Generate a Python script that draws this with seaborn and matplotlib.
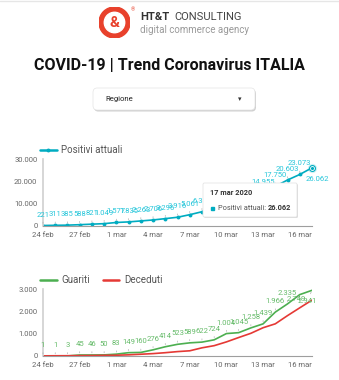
import matplotlib
matplotlib.use('Agg')
import matplotlib.pyplot as plt
import seaborn as sns
import pandas as pd
from matplotlib.patches import FancyBboxPatch, Circle, Rectangle
from matplotlib.lines import Line2D

# ---------------- data ----------------
dates = pd.date_range('2020-02-24', '2020-03-17', freq='D')
positivi = [221, 311, 385, 588, 821, 1049, 1577, 1835, 2263, 2706, 3296, 3916,
            5061, 6387, 7985, 8514, 10590, 12839, 14955, 17750, 20603, 23073, 26062]
guariti = [1, 1, 3, 45, 46, 50, 83, 149, 160, 276, 414, 523, 589, 622, 724,
           1004, 1045, 1258, 1439, 1966, 2335, 2749, 2941]
deceduti = [7, 10, 12, 17, 21, 29, 34, 52, 79, 107, 148, 197, 233, 366, 463,
            631, 827, 1016, 1266, 1441, 1809, 2158, 2503]
x_tick_labels = ['24 feb', '27 feb', '1 mar', '4 mar', '7 mar', '10 mar', '13 mar', '16 mar']
top_yticks = [0, 10000, 20000, 30000]
bottom_yticks = [0, 1000, 2000, 3000]
title = 'COVID-19 | Trend Coronavirus ITALIA'
tooltip_date = '17 mar 2020'

TEAL = '#00acc1'
TEAL_LBL = '#26c6da'
GREEN = '#4caf50'
GREEN_LBL = '#66bb6a'
RED = '#e53935'
TICK_COL = '#666666'


def it(v):
    return f"{int(v):,}".replace(',', '.')


sns.set_style('white')
plt.rcParams['font.family'] = ['Roboto', 'DejaVu Sans']

W, H = 339, 380
fig = plt.figure(figsize=(W / 100, H / 100), dpi=100)
fig.patch.set_facecolor('white')


def fx(px):
    return px / W


def fy(py):
    return 1 - py / H


# top border line
fig.add_artist(Line2D([0, 1], [fy(1), fy(1)], color='#e6e6e6', lw=1))

# ---------------- header ----------------
logo_ax = fig.add_axes([fx(99), fy(38), fx(31), 31 / H])
logo_ax.set_xlim(0, 1)
logo_ax.set_ylim(0, 1)
logo_ax.axis('off')
logo_ax.add_patch(Circle((0.5, 0.5), 0.5, color='#e8412c'))
logo_ax.add_patch(Circle((0.5, 0.5), 0.33, color='white'))
logo_ax.text(0.5, 0.47, '&', color='#e8412c', fontsize=11, fontweight='bold',
             ha='center', va='center')
fig.text(fx(133), fy(10), '®', color='#e8412c', fontsize=4, ha='center', va='center')
fig.text(fx(140), fy(17), 'HT&T', color='#333333', fontsize=8, fontweight='bold',
         ha='left', va='center')
fig.text(fx(174), fy(17), 'CONSULTING', color='#444444', fontsize=8,
         ha='left', va='center')
fig.text(fx(140), fy(30), 'digital commerce agency', color='#9a9a9a', fontsize=7,
         ha='left', va='center')

fig.text(0.5, fy(65), title, fontsize=11.5, fontweight='bold', color='#111111',
         ha='center', va='center')

# dropdown
shadow = FancyBboxPatch((fx(94), fy(111.5)), fx(162), 22 / H,
                        boxstyle='round,pad=0,rounding_size=0.012',
                        transform=fig.transFigure, facecolor='#d0d0d0',
                        edgecolor='none', zorder=1)
fig.add_artist(shadow)
box = FancyBboxPatch((fx(93), fy(110)), fx(162), 22 / H,
                     boxstyle='round,pad=0,rounding_size=0.012',
                     transform=fig.transFigure, facecolor='white',
                     edgecolor='#e4e4e4', lw=0.5, zorder=2)
fig.add_artist(box)
fig.text(fx(105), fy(99), 'Regione', fontsize=5.5, color='#222222',
         ha='left', va='center', zorder=3)
fig.text(fx(240), fy(99), '▾', fontsize=5, color='#333333',
         ha='center', va='center', zorder=3, family=['DejaVu Sans'])

# ---------------- axes ----------------
ax1 = fig.add_axes([fx(43), fy(226), fx(269), 67 / H])
ax2 = fig.add_axes([fx(43), fy(356), fx(269), 67 / H])

df_top = pd.DataFrame({'date': dates, 'Positivi attuali': positivi})
df_bot = pd.DataFrame({'date': list(dates) * 2,
                       'value': guariti + deceduti,
                       'serie': ['Guariti'] * len(dates) + ['Deceduti'] * len(dates)})

sns.lineplot(data=df_top, x='date', y='Positivi attuali', ax=ax1, color=TEAL,
             marker='o', markersize=2.8, markeredgewidth=0, lw=1.2,
             label='Positivi attuali', legend=False)
sns.lineplot(data=df_bot, x='date', y='value', hue='serie', ax=ax2,
             palette={'Guariti': GREEN, 'Deceduti': RED}, lw=1.2, legend=False)

for ax, yt, ylim in ((ax1, top_yticks, 30000), (ax2, bottom_yticks, 3000)):
    ax.set_xlim(dates[0], dates[-1])
    ax.set_ylim(0, ylim)
    ax.set_yticks(yt)
    ax.set_yticklabels([it(v) for v in yt])
    ax.set_xticks(dates[::3])
    ax.set_xticklabels(x_tick_labels)
    ax.tick_params(axis='both', length=0, labelsize=5.5, labelcolor=TICK_COL)
    ax.tick_params(axis='x', pad=4)
    ax.tick_params(axis='y', pad=4)
    ax.set_xlabel('')
    ax.set_ylabel('')
    ax.grid(False)
    ax.set_facecolor('none')
    for s in ('top', 'right'):
        ax.spines[s].set_visible(False)
    ax.spines['left'].set_color('#cfcfcf')
    ax.spines['left'].set_linewidth(1.2)
    ax.spines['bottom'].set_color('#9e9e9e')
    ax.spines['bottom'].set_linewidth(0.8)

# hover highlight on last point
ax1.scatter([dates[-1]], [positivi[-1]], s=45, color=TEAL, alpha=0.18,
            linewidths=0, zorder=4, clip_on=False)
ax1.scatter([dates[-1]], [positivi[-1]], s=18, facecolor='white', edgecolor=TEAL,
            linewidths=0.8, zorder=5, clip_on=False)
ax1.scatter([dates[-1]], [positivi[-1]], s=5, color=TEAL, linewidths=0,
            zorder=6, clip_on=False)


def label(ax, d, v, color, off=(0, 11), ha='center'):
    ax.annotate(it(v), xy=(d, v), xytext=off, textcoords='offset pixels',
                ha=ha, va='center', fontsize=5.5, color=color,
                arrowprops=dict(arrowstyle='-', color='#b0b0b0', lw=0.5,
                                shrinkA=1, shrinkB=1.5),
                annotation_clip=False, zorder=3)


for i, (d, v) in enumerate(zip(dates, positivi)):
    if i == len(dates) - 1:
        label(ax1, d, v, TEAL_LBL, off=(5, -11))
    else:
        label(ax1, d, v, TEAL_LBL)

for i, (d, v) in enumerate(zip(dates, guariti)):
    if i == len(dates) - 1:
        label(ax2, d, v, GREEN_LBL, off=(-5, -11))
    elif i == len(dates) - 2:
        label(ax2, d, v, GREEN_LBL, off=(-3, -4))
    else:
        label(ax2, d, v, GREEN_LBL)

# legends
h1 = [Line2D([], [], color=TEAL, lw=1.8, marker='o', markersize=2.8, markeredgewidth=0)]
fig.legend(h1, ['Positivi attuali'], loc='center left',
           bbox_to_anchor=(fx(40), fy(150)), frameon=False, fontsize=7,
           handlelength=1.7, handletextpad=0.5, borderpad=0, borderaxespad=0,
           labelcolor='#555555')
h2 = [Line2D([], [], color=GREEN, lw=1.8), Line2D([], [], color=RED, lw=1.8)]
fig.legend(h2, ['Guariti', 'Deceduti'], loc='center left', ncol=2,
           bbox_to_anchor=(fx(40), fy(280)), frameon=False, fontsize=7,
           handlelength=1.7, handletextpad=0.5, columnspacing=1.3,
           borderpad=0, borderaxespad=0, labelcolor='#555555')

# tooltip
tshadow = FancyBboxPatch((fx(204), fy(218)), fx(94), 34 / H,
                         boxstyle='round,pad=0,rounding_size=0.004',
                         transform=fig.transFigure, facecolor='#dddddd',
                         edgecolor='none', zorder=10)
fig.add_artist(tshadow)
tbox = FancyBboxPatch((fx(203), fy(217)), fx(94), 34 / H,
                      boxstyle='round,pad=0,rounding_size=0.004',
                      transform=fig.transFigure, facecolor='white',
                      edgecolor='#e0e0e0', lw=0.5, zorder=11)
fig.add_artist(tbox)
fig.text(fx(210), fy(193), tooltip_date, fontsize=5.3, fontweight='bold',
         color='#333333', ha='left', va='center', zorder=12)
fig.add_artist(Rectangle((fx(210.5), fy(209.5)), fx(3), 3 / H,
                         transform=fig.transFigure, color=TEAL, zorder=12))
t = fig.text(fx(218), fy(208), 'Positivi attuali: ', fontsize=5.3,
             color='#555555', ha='left', va='center', zorder=12)
fig.canvas.draw()
bb = t.get_window_extent()
fig.text(bb.x1 / W, fy(208), it(positivi[-1]), fontsize=5.3, fontweight='bold',
         color='#333333', ha='left', va='center', zorder=12)

fig.savefig('out.png', dpi=100, facecolor='white')
